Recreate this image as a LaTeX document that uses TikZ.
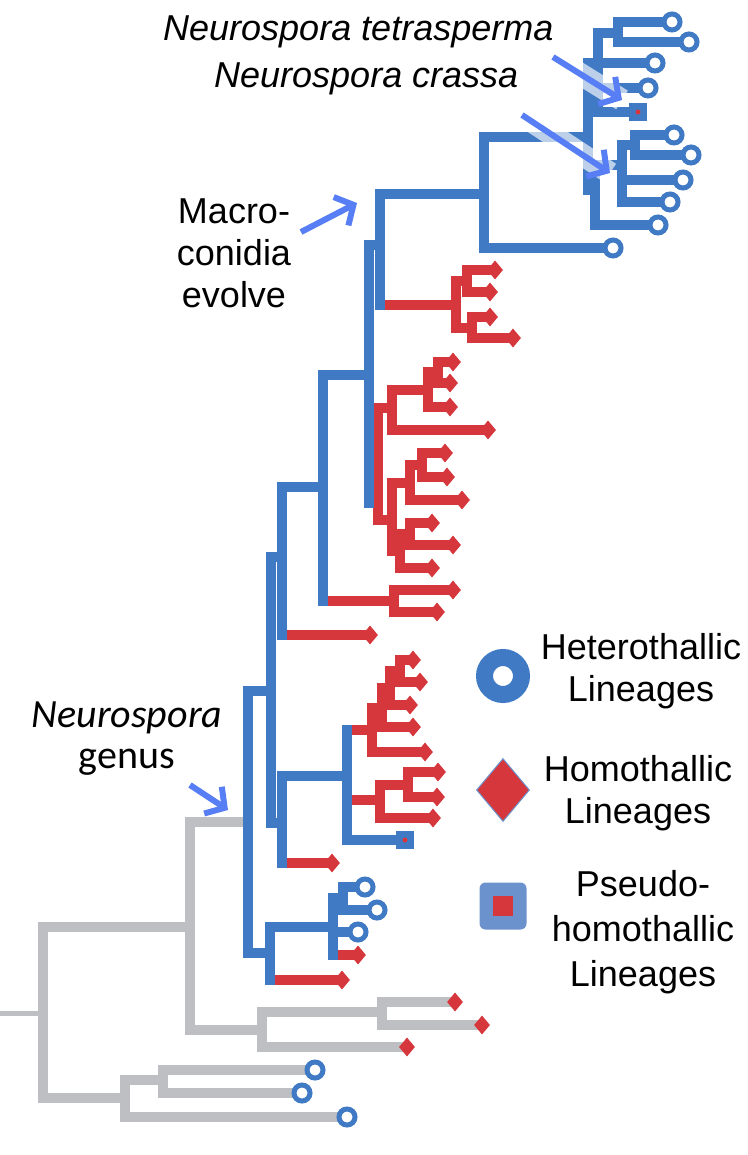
\documentclass[tikz,border=0pt]{standalone}
\usepackage{fontspec}
\setmainfont{Liberation Sans}
\newfontfamily\genusfont{Carlito}
\usetikzlibrary{shapes.geometric,arrows.meta,backgrounds}
\definecolor{treeblue}{RGB}{64,122,196}
\definecolor{treered}{RGB}{214,55,60}
\definecolor{treegrey}{RGB}{190,191,195}
\definecolor{arrowblue}{RGB}{88,126,245}
\definecolor{keyblue}{RGB}{108,146,205}
\begin{document}
\begin{tikzpicture}[x=1pt,y=-1pt]
	\tikzset{
		branch/.style={line width=10pt,line join=miter},
		blue branch/.style={branch,draw=treeblue},
		red branch/.style={branch,draw=treered},
		grey branch/.style={branch,draw=treegrey},
		hetero node/.style={circle,draw=treeblue,fill=white,line width=5pt,minimum size=16pt,inner sep=0},
		homo node/.style={diamond,fill=treered,inner sep=0,minimum width=16pt,minimum height=19pt},
		pseudo node/.style={rectangle,fill=treeblue,inner sep=0,minimum size=18pt,
			path picture={\fill[treered] (path picture bounding box.center) circle (2.5pt);}},
		hetero key/.style={circle,draw=treeblue,fill=white,line width=17pt,minimum size=37pt,inner sep=0},
		homo key/.style={diamond,fill=treered,draw=keyblue,line width=1pt,inner sep=0,minimum width=53pt,minimum height=63pt},
		pseudo key/.style={rectangle,rounded corners=6pt,fill=keyblue,inner sep=0,minimum size=47pt,
			path picture={\fill[treered,sharp corners] ([shift={(-10pt,-10pt)}]path picture bounding box.center) rectangle ++(20pt,20pt);}},
		pointer/.style={draw=arrowblue,line width=6pt,-{Straight Barb[length=14pt,width=32pt]}},
		glow/.style={preaction={draw=white,opacity=0.65,line width=22pt,-}},
		note text/.style={inner sep=0,font=\fontsize{36}{42}\selectfont,align=center},
		genus text/.style={inner sep=0,font=\genusfont\fontsize{40}{41}\selectfont,align=center}
	}
	\useasboundingbox (0,0) rectangle (747,1155);

	% internal nodes of the tree
	\coordinate (stub) at (0,1013);
	\coordinate (R) at (43,1013);
	\coordinate (N1) at (190,927);
	\coordinate (O1) at (262,1030);
	\coordinate (O1a) at (382,1012);
	\coordinate (O2) at (125,1098);
	\coordinate (O2a) at (163,1080);
	\coordinate (G) at (248,822);
	\coordinate (Vc) at (271,691);
	\coordinate (Vb) at (282,557);
	\coordinate (Va) at (323,487);
	\coordinate (Vf) at (369,375);
	\coordinate (Vg) at (380,245);
	\coordinate (Cr) at (484,194);
	\coordinate (Nc) at (588,137);
	\coordinate (Tt) at (598,63);
	\coordinate (T1) at (618,33);
	\coordinate (Cs) at (595,190);
	\coordinate (Cs1) at (622,165);
	\coordinate (Cs2) at (635,145);
	\coordinate (A) at (456,305);
	\coordinate (A1) at (467,281);
	\coordinate (A2) at (472,328);
	\coordinate (Bn) at (378,503);
	\coordinate (B1) at (392,408);
	\coordinate (B1a) at (428,390);
	\coordinate (B1b) at (438,372);
	\coordinate (B2) at (392,520);
	\coordinate (B2a) at (410,483);
	\coordinate (B2b) at (422,465);
	\coordinate (B2c) at (400,551);
	\coordinate (B2d) at (410,534);
	\coordinate (B3) at (394,601);
	\coordinate (Ve) at (282,823);
	\coordinate (Cn) at (347,776);
	\coordinate (C1) at (372,730);
	\coordinate (C1b) at (382,708);
	\coordinate (C1c) at (390,688);
	\coordinate (C1d) at (400,671);
	\coordinate (C2) at (380,800);
	\coordinate (C2b) at (408,785);
	\coordinate (S) at (270,953);
	\coordinate (S2) at (333,927);
	\coordinate (S3) at (343,898);

	% tips
	\node[hetero node] (c1) at (672,22) {};
	\node[hetero node] (c2) at (689,42) {};
	\node[hetero node] (c3) at (655,63) {};
	\node[hetero node] (c4) at (648,88) {};
	\node[pseudo node] (p1) at (638,112) {};
	\node[hetero node] (c6) at (674,135) {};
	\node[hetero node] (c7) at (691,155) {};
	\node[hetero node] (c8) at (683,180) {};
	\node[hetero node] (c9) at (670,202) {};
	\node[hetero node] (c10) at (658,225) {};
	\node[hetero node] (c11) at (613,248) {};
	\node[homo node] (a1) at (495,270) {};
	\node[homo node] (a2) at (490,292) {};
	\node[homo node] (a3) at (490,317) {};
	\node[homo node] (a4) at (513,338) {};
	\node[homo node] (b1) at (453,362) {};
	\node[homo node] (b2) at (450,383) {};
	\node[homo node] (b3) at (450,407) {};
	\node[homo node] (b4) at (488,430) {};
	\node[homo node] (b5) at (445,453) {};
	\node[homo node] (b6) at (447,477) {};
	\node[homo node] (b7) at (462,500) {};
	\node[homo node] (b8) at (432,523) {};
	\node[homo node] (b9) at (453,545) {};
	\node[homo node] (b10) at (432,568) {};
	\node[homo node] (b11) at (453,590) {};
	\node[homo node] (b12) at (437,612) {};
	\node[homo node] (r1) at (370,635) {};
	\node[homo node] (d1) at (413,660) {};
	\node[homo node] (d2) at (420,682) {};
	\node[homo node] (d3) at (410,705) {};
	\node[homo node] (d4) at (413,727) {};
	\node[homo node] (d5) at (425,752) {};
	\node[homo node] (d6) at (438,772) {};
	\node[homo node] (d7) at (437,797) {};
	\node[homo node] (d8) at (433,818) {};
	\node[pseudo node] (p2) at (405,840) {};
	\node[homo node] (r2) at (332,863) {};
	\node[hetero node] (s1) at (365,887) {};
	\node[hetero node] (s2) at (377,910) {};
	\node[hetero node] (s3) at (358,932) {};
	\node[homo node] (s4) at (358,955) {};
	\node[homo node] (r3) at (342,980) {};
	\node[homo node] (g1) at (455,1002) {};
	\node[homo node] (g2) at (482,1025) {};
	\node[homo node] (g3) at (407,1047) {};
	\node[hetero node] (g4) at (315,1070) {};
	\node[hetero node] (g5) at (302,1093) {};
	\node[hetero node] (g6) at (347,1117) {};

	% branches
	\begin{scope}[on background layer]
		\draw[grey branch,line width=5pt] (stub) -- (R);
		\foreach \p/\c in {R/N1,R/O2,N1/G,N1/O1,O1/O1a,O1/g3,O1a/g1,O1a/g2,O2/O2a,O2/g6,O2a/g4,O2a/g5}
			\draw[grey branch] (\p) |- (\c.center);
		\foreach \p/\c in {Vg/Cr,Cr/Nc,Cr/c11,Nc/Tt,Nc/Cs,Tt/T1,Tt/c3,Tt/c4,Tt/p1,T1/c1,T1/c2,
				Cs/Cs1,Cs/c10,Cs1/Cs2,Cs1/c8,Cs1/c9,Cs2/c6,Cs2/c7,Vf/Vg,Va/Vf,Vb/Va,Vc/Vb,Vc/Ve,
				Ve/Cn,Cn/p2,G/Vc,G/S,S/S2,S2/S3,S2/s3,S3/s1,S3/s2}
			\draw[blue branch] (\p) |- (\c.center);
		\foreach \p/\c in {A/A1,A/A2,A1/a1,A1/a2,A2/a3,A2/a4,Bn/B1,Bn/B2,B1/B1a,B1/b4,B1a/B1b,B1a/b3,
				B1b/b1,B1b/b2,B2/B2a,B2/B2c,B2a/B2b,B2a/b7,B2b/b5,B2b/b6,B2c/B2d,B2c/b10,B2d/b8,B2d/b9,
				B3/b11,B3/b12,C1/C1b,C1/d5,C1b/C1c,C1b/d4,C1c/C1d,C1c/d3,C1d/d1,C1d/d2,C2/C2b,C2/d8,
				C2b/d6,C2b/d7}
			\draw[red branch] (\p) |- (\c.center);
		\foreach \p/\c in {Vg/A,Vf/Bn,Va/B3,Vb/r1,Ve/r2,Cn/C1,Cn/C2,S/r3,S2/s4}{
			\draw[blue branch] (\p) -- (\p |- \c.center) -- ++(5,0);
			\draw[red branch] (\p |- \c.center) ++(5,0) -- (\c.center);
		}
	\end{scope}

	% labels and arrows
	\node[note text,anchor=base west] (tetra) at (163,41) {\itshape Neurospora tetrasperma};
	\node[note text,anchor=base west] (crassa) at (214,88) {\itshape Neurospora crassa};
	\node[note text,anchor=base] (macro) at (234,308) {Macro-\\conidia\\evolve};
	\node[genus text,anchor=base] (genus) at (127,768) {\textit{Neurospora}\\genus};
	\coordinate (tetraTail) at (553,57);
	\coordinate (tetraHead) at (622,100);
	\coordinate (crassaTail) at (522,115);
	\coordinate (crassaHead) at (610,173);
	\coordinate (macroTail) at (301,232);
	\coordinate (macroHead) at (357,203);
	\coordinate (genusTail) at (190,785);
	\coordinate (genusHead) at (228,810);
	\draw[pointer,glow] (tetraTail) -- (tetraHead);
	\draw[pointer,glow] (crassaTail) -- (crassaHead);
	\draw[pointer] (macroTail) -- (macroHead);
	\draw[pointer] (genusTail) -- (genusHead);

	% legend
	\node[hetero key] (hetkey) at (503,676) {};
	\node[homo key] (homkey) at (503,790) {};
	\node[pseudo key] (psekey) at (503,906) {};
	\node[note text,anchor=base] (hettext) at (641,701) {Heterothallic\\Lineages};
	\node[note text,anchor=base] (homtext) at (638,823) {Homothallic\\Lineages};
	\node[note text,anchor=base] (psetext) at (643,986) {Pseudo-\\[3pt]homothallic\\[3pt]Lineages};
\end{tikzpicture}
\end{document}
